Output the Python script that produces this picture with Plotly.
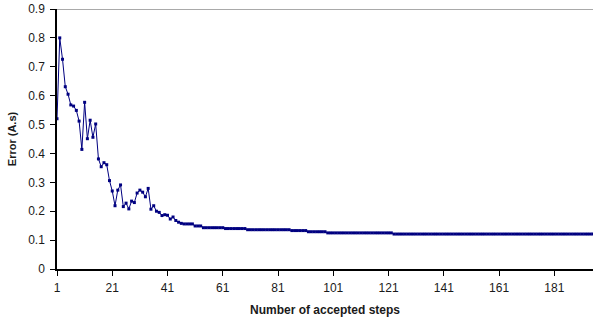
import plotly.graph_objects as go

steps = list(range(1, 196))

error = [
    0.520, 0.800, 0.726, 0.631, 0.605, 0.568, 0.564, 0.549, 0.512, 0.414,
    0.577, 0.451, 0.515, 0.456, 0.502, 0.381, 0.354, 0.368, 0.361, 0.306,
    0.270, 0.219, 0.273, 0.291, 0.216, 0.228, 0.208, 0.235, 0.230, 0.263,
    0.273, 0.266, 0.250, 0.279, 0.207, 0.219, 0.200, 0.196, 0.185, 0.188,
    0.186, 0.173, 0.180, 0.168, 0.162, 0.158, 0.156, 0.156, 0.156, 0.156,
    0.149, 0.149, 0.149, 0.143, 0.143, 0.143, 0.143, 0.143, 0.143, 0.143,
    0.143, 0.140, 0.140, 0.140, 0.140, 0.140, 0.140, 0.140, 0.140, 0.136,
    0.136, 0.136, 0.136, 0.136, 0.136, 0.136, 0.136, 0.136, 0.136, 0.136,
    0.136, 0.136, 0.136, 0.136, 0.136, 0.133, 0.133, 0.133, 0.133, 0.133,
    0.133, 0.129, 0.129, 0.129, 0.129, 0.129, 0.129, 0.129, 0.125, 0.125,
    0.125, 0.125, 0.125, 0.125, 0.125, 0.125, 0.125, 0.125, 0.125, 0.125,
    0.125, 0.125, 0.125, 0.125, 0.125, 0.125, 0.125, 0.125, 0.125, 0.125,
    0.125, 0.125, 0.121, 0.121, 0.121, 0.121, 0.121, 0.121, 0.121, 0.121,
    0.121, 0.121, 0.121, 0.121, 0.121, 0.121, 0.121, 0.121, 0.121, 0.121,
    0.121, 0.121, 0.121, 0.121, 0.121, 0.121, 0.121, 0.121, 0.121, 0.121,
    0.121, 0.121, 0.121, 0.121, 0.121, 0.121, 0.121, 0.121, 0.121, 0.121,
    0.121, 0.121, 0.121, 0.121, 0.121, 0.121, 0.121, 0.121, 0.121, 0.121,
    0.121, 0.121, 0.121, 0.121, 0.121, 0.121, 0.121, 0.121, 0.121, 0.121,
    0.121, 0.121, 0.121, 0.121, 0.121, 0.121, 0.121, 0.121, 0.121, 0.121,
    0.121, 0.121, 0.121, 0.121, 0.121,
]

x_ticks = [1, 21, 41, 61, 81, 101, 121, 141, 161, 181]
y_ticks = [0, 0.1, 0.2, 0.3, 0.4, 0.5, 0.6, 0.7, 0.8, 0.9]
y_labels = ["0", "0.1", "0.2", "0.3", "0.4", "0.5", "0.6", "0.7", "0.8", "0.9"]

navy = "#000080"
font = "Liberation Sans, Arial, sans-serif"
txt = "#1a1a1a"

fig = go.Figure()
fig.add_trace(go.Scatter(
    x=steps, y=error, mode="lines+markers",
    line=dict(color=navy, width=1),
    marker=dict(color=navy, size=3, symbol="square"),
    showlegend=False,
))

fig.add_shape(type="line", xref="paper", yref="y", x0=0, x1=1, y0=0.9, y1=0.9,
              line=dict(color="#8c8c8c", width=1.5), layer="below")

fig.update_layout(
    width=593, height=325,
    margin=dict(l=57, r=0, t=9, b=56),
    paper_bgcolor="white", plot_bgcolor="white",
    font=dict(family=font, size=12, color=txt),
    xaxis=dict(
        range=[1, 195], tickvals=x_ticks, ticktext=[str(v) for v in x_ticks],
        showgrid=False, zeroline=False, showline=True, linecolor="black", linewidth=1.5,
        ticks="outside", ticklen=5, tickcolor="black", tickwidth=1,
        ticklabelstandoff=2,
        tickfont=dict(size=12, color=txt),
        title=dict(text="<b>Number of accepted steps</b>", font=dict(size=12, color=txt), standoff=11),
    ),
    yaxis=dict(
        range=[0, 0.9], tickvals=y_ticks, ticktext=y_labels,
        showgrid=False, zeroline=False, showline=True, linecolor="black", linewidth=1.5,
        ticks="outside", ticklen=5, tickcolor="black", tickwidth=1,
        ticklabelstandoff=3,
        tickfont=dict(size=12, color=txt),
        title=dict(text="<b>Error (A.s)</b>", font=dict(size=11, color=txt), standoff=9),
    ),
)

fig.write_html("out.html")
